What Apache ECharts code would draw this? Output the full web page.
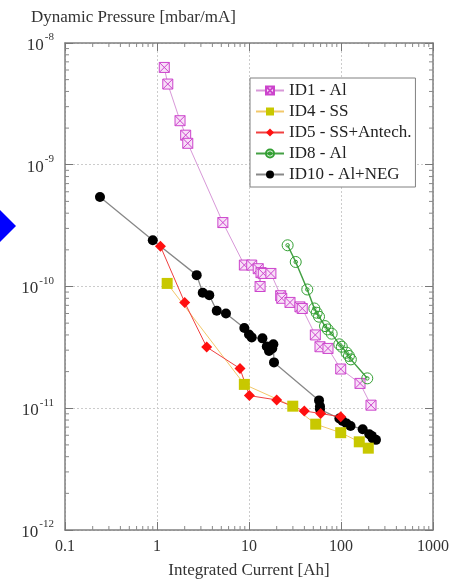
<!DOCTYPE html>
<html>
<head>
<meta charset="utf-8">
<script src="https://cdn.jsdelivr.net/npm/echarts@6/dist/echarts.min.js"></script>
<style>html,body{margin:0;padding:0;background:#fff;}#c{width:461px;height:584px;}</style>
</head>
<body>
<div id="c"></div>
<script>
// ---- data (x: Integrated Current [Ah], y: Dynamic Pressure [mbar/mA]) ----
const xTicks = [0.1, 1, 10, 100, 1000];
const yTicks = [1e-12, 1e-11, 1e-10, 1e-9, 1e-8];
const xMinorTicks = [0.2,0.3,0.4,0.5,0.6,0.7,0.8,0.9, 2,3,4,5,6,7,8,9, 20,30,40,50,60,70,80,90, 200,300,400,500,600,700,800,900];
const yMinorTicks = [2e-12,3e-12,4e-12,5e-12,6e-12,7e-12,8e-12,9e-12, 2e-11,3e-11,4e-11,5e-11,6e-11,7e-11,8e-11,9e-11, 2e-10,3e-10,4e-10,5e-10,6e-10,7e-10,8e-10,9e-10, 2e-9,3e-9,4e-9,5e-9,6e-9,7e-9,8e-9,9e-9];
const seriesNames = ['ID1 - Al', 'ID4 - SS', 'ID5 - SS+Antech.', 'ID8 - Al', 'ID10 - Al+NEG'];

const id1 = [[1.20,6.3e-9],[1.31,4.6e-9],[1.78,2.3e-9],[2.05,1.75e-9],[2.16,1.5e-9],[5.2,3.35e-10],[8.9,1.5e-10],[10.7,1.5e-10],[12.6,1.4e-10],[13.2,1.0e-10],[13.5,1.3e-10],[14.3,1.28e-10],[17.3,1.28e-10],[22.1,8.4e-11],[22.7,8.0e-11],[27.9,7.4e-11],[35.8,6.8e-11],[37.9,6.6e-11],[52.6,4.0e-11],[59.1,3.2e-11],[72.2,3.1e-11],[99.3,2.1e-11],[161,1.6e-11],[212,1.06e-11]];
const id4 = [[1.29,1.06e-10],[8.9,1.57e-11],[29.9,1.04e-11],[53.1,7.4e-12],[99.3,6.3e-12],[158,5.3e-12],[198,4.7e-12]];
const id5 = [[1.09,2.14e-10],[2.0,7.4e-11],[3.47,3.18e-11],[7.98,2.12e-11],[10.1,1.27e-11],[20.0,1.17e-11],[39.9,9.5e-12],[60.1,9.05e-12],[99.3,8.5e-12]];
const id8 = [[26.3,2.18e-10],[32.2,1.59e-10],[43.0,9.45e-11],[51.3,6.6e-11],[54.4,6.09e-11],[57.7,5.65e-11],[67.0,4.73e-11],[71.7,4.44e-11],[79.2,4.1e-11],[95.9,3.35e-11],[102,3.2e-11],[115,2.86e-11],[122,2.69e-11],[128,2.52e-11],[193,1.76e-11]];
const id10 = [[0.24,5.44e-10],[0.90,2.40e-10],[2.70,1.24e-10],[3.14,8.88e-11],[3.70,8.49e-11],[4.46,6.32e-11],[5.62,6.01e-11],[8.89,4.56e-11],[10.0,4.04e-11],[10.7,3.82e-11],[14.0,3.75e-11],[15.6,3.21e-11],[16.5,2.95e-11],[17.9,3.1e-11],[18.4,3.35e-11],[18.7,2.38e-11],[57.7,1.16e-11],[59.1,1.04e-11],[59.1,9.8e-12],[95.9,8.24e-12],[104,7.87e-12],[115,7.5e-12],[127,7.16e-12],[172,6.73e-12],[203,6.12e-12],[216,5.93e-12],[221,5.65e-12],[240,5.5e-12]];

const FONT = 'Liberation Serif';
const chart = echarts.init(document.getElementById('c'), null, {renderer: 'canvas'});

const SQX = 'path://M0,0L10,0L10,10L0,10Z M0,0L10,10 M10,0L0,10';
const CIRDOT = 'path://M10,5A5,5 0 1,1 0,5A5,5 0 1,1 10,5Z M6.6,5A1.6,1.6 0 1,1 3.4,5A1.6,1.6 0 1,1 6.6,5Z';

function expLabel(v) {
  const e = Math.round(Math.log10(v));
  return '{b|10}{s|' + e + '}';
}

function xLabel(v) {
  const t = xTicks.find(t => Math.abs(Math.log10(t) - Math.log10(v)) < 1e-6);
  return String(t !== undefined ? t : v);
}

const axisCommon = {
  type: 'log',
  logBase: 10,
  axisLine: {show: true, lineStyle: {color: '#808080', width: 1.5}},
  axisTick: {show: true, inside: true, length: 8, lineStyle: {color: '#777', width: 1}},
  splitLine: {show: false},
  minorTick: {show: false},
  minorSplitLine: {show: false}
};

const tickStyle = {stroke: '#888', lineWidth: 1};

const option = {
  backgroundColor: '#fff',
  animation: false,
  title: {
    text: 'Dynamic Pressure [mbar/mA]',
    left: 26, top: 4,
    textStyle: {fontFamily: FONT, fontSize: 17, fontWeight: 'normal', color: '#333'}
  },
  grid: {left: 65, right: 28, top: 43, bottom: 53, containLabel: false},
  legend: {
    data: seriesNames,
    orient: 'vertical',
    left: 250, top: 78,
    itemWidth: 28, itemHeight: 10,
    itemGap: 4,
    padding: [4, 4, 4, 5],
    backgroundColor: '#fff',
    borderColor: '#808080', borderWidth: 1,
    textStyle: {fontFamily: FONT, fontSize: 17, color: '#222'}
  },
  xAxis: [
    Object.assign({}, axisCommon, {
      min: 0.1, max: 1000, position: 'bottom',
      name: 'Integrated Current [Ah]', nameLocation: 'middle', nameGap: 32,
      nameTextStyle: {fontFamily: FONT, fontSize: 17, color: '#333'},
      axisLabel: {fontFamily: FONT, fontSize: 16, color: '#333', margin: 9, formatter: xLabel},
      splitLine: {show: true, lineStyle: {color: '#cccccc', type: [2, 2], width: 1}}
    }),
    Object.assign({}, axisCommon, {
      min: 0.1, max: 1000, position: 'top', axisLabel: {show: false}
    })
  ],
  yAxis: [
    Object.assign({}, axisCommon, {
      min: 1e-12, max: 1e-8, position: 'left',
      axisLabel: {fontFamily: FONT, color: '#333', margin: 11,
        formatter: expLabel,
        rich: {
          b: {fontFamily: FONT, fontSize: 17, color: '#333', verticalAlign: 'bottom', lineHeight: 22},
          s: {fontFamily: FONT, fontSize: 11, color: '#333', verticalAlign: 'top', lineHeight: 22, padding: [0, 0, 0, 1]}
        }},
      splitLine: {show: true, lineStyle: {color: '#cccccc', type: [2, 2], width: 1}}
    }),
    Object.assign({}, axisCommon, {
      min: 1e-12, max: 1e-8, position: 'right', axisLabel: {show: false}
    })
  ],
  graphic: [{
    type: 'polygon',
    shape: {points: [[0, 210], [16, 226], [0, 242]]},
    style: {fill: '#0000ff'}
  }],
  series: [
    {
      type: 'custom', name: 'xminor', silent: true, clip: false, z: 5,
      xAxisIndex: 0, yAxisIndex: 0,
      data: xMinorTicks.map(v => [v, 1e-10]), encode: {x: 0, y: 1},
      renderItem: function (params, api) {
        const cs = params.coordSys;
        const p = api.coord([api.value(0), 1e-10]);
        const yb = cs.y + cs.height, yt = cs.y;
        return {type: 'group', children: [
          {type: 'line', shape: {x1: p[0], y1: yb, x2: p[0], y2: yb - 4}, style: tickStyle},
          {type: 'line', shape: {x1: p[0], y1: yt, x2: p[0], y2: yt + 4}, style: tickStyle}
        ]};
      }
    },
    {
      type: 'custom', name: 'yminor', silent: true, clip: false, z: 5,
      xAxisIndex: 0, yAxisIndex: 0,
      data: yMinorTicks.map(v => [1, v]), encode: {x: 0, y: 1},
      renderItem: function (params, api) {
        const cs = params.coordSys;
        const p = api.coord([1, api.value(1)]);
        const xl = cs.x, xr = cs.x + cs.width;
        return {type: 'group', children: [
          {type: 'line', shape: {x1: xl, y1: p[1], x2: xl + 4, y2: p[1]}, style: tickStyle},
          {type: 'line', shape: {x1: xr, y1: p[1], x2: xr - 4, y2: p[1]}, style: tickStyle}
        ]};
      }
    },
    {
      name: 'ID10 - Al+NEG', type: 'line', data: id10, z: 3,
      symbol: 'circle', symbolSize: 10,
      lineStyle: {color: '#888', width: 1.3},
      itemStyle: {color: '#000'}
    },
    {
      name: 'ID4 - SS', type: 'line', data: id4, z: 4,
      symbol: 'rect', symbolSize: 11,
      lineStyle: {color: '#f2c86a', width: 1},
      itemStyle: {color: '#c8c800'}
    },
    {
      name: 'ID5 - SS+Antech.', type: 'line', data: id5, z: 4,
      symbol: 'diamond', symbolSize: 11,
      lineStyle: {color: '#f04040', width: 1},
      itemStyle: {color: '#ff1010'}
    },
    {
      name: 'ID1 - Al', type: 'line', data: id1, z: 3,
      symbol: SQX, symbolSize: 10, symbolKeepAspect: true,
      lineStyle: {color: '#d898d8', width: 1},
      itemStyle: {color: '#f8e0f8', borderColor: '#cc44cc', borderWidth: 1}
    },
    {
      name: 'ID8 - Al', type: 'line', data: id8, z: 3,
      symbol: CIRDOT, symbolSize: 11, symbolKeepAspect: true,
      lineStyle: {color: '#44a044', width: 1.5},
      itemStyle: {color: 'rgba(255,255,255,0)', borderColor: '#33a033', borderWidth: 1}
    }
  ]
};
chart.setOption(option);
</script>
</body>
</html>
